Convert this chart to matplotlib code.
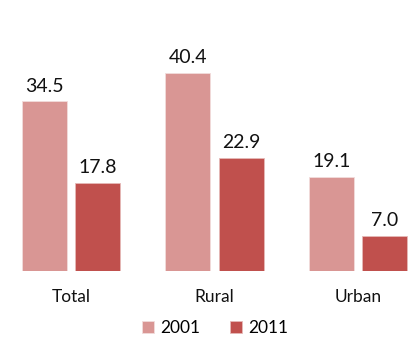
import numpy as np
import matplotlib
matplotlib.use("Agg")
import matplotlib.pyplot as plt

plt.rcParams['font.family'] = ['Lato', 'DejaVu Sans']

# data
categories = ["Total", "Rural", "Urban"]
years = ["2001", "2011"]
values_2001 = [34.5, 40.4, 19.1]
values_2011 = [17.8, 22.9, 7.0]
colors = ["#D99694", "#C0504D"]

fig = plt.figure(figsize=(4.17, 3.44), dpi=100)
base_px = 270.5
ax = fig.add_axes([0, (344 - base_px) / 344, 1, base_px / 344])

x = np.arange(len(categories))
width = 0.314
offset = 0.185

b1 = ax.bar(x - offset, values_2001, width, color=colors[0], label=years[0],
            edgecolor="#F2DCDB", linewidth=0.6)
b2 = ax.bar(x + offset, values_2011, width, color=colors[1], label=years[1],
            edgecolor="#E6B9B8", linewidth=0.6)

for bars in (b1, b2):
    ax.bar_label(bars, labels=["%.1f" % v for v in bars.datavalues],
                 padding=5, fontsize=14, color="#111111")

ax.set_xlim(-71 / 143.5, (417 - 71) / 143.5)
ax.set_ylim(0, base_px / 4.9)
ax.set_xticks(x)
ax.set_xticklabels(categories, fontsize=12.5, color="#111111")
ax.tick_params(axis="x", length=0, pad=13)
ax.set_yticks([])
for s in ax.spines.values():
    s.set_visible(False)

fig.legend(loc="center", bbox_to_anchor=(0.515, 1 - 328 / 344), ncol=2, frameon=False,
           fontsize=12.5, handlelength=0.7, handleheight=0.7, handletextpad=0.35,
           columnspacing=1.7)

fig.savefig("out.png", dpi=100)
